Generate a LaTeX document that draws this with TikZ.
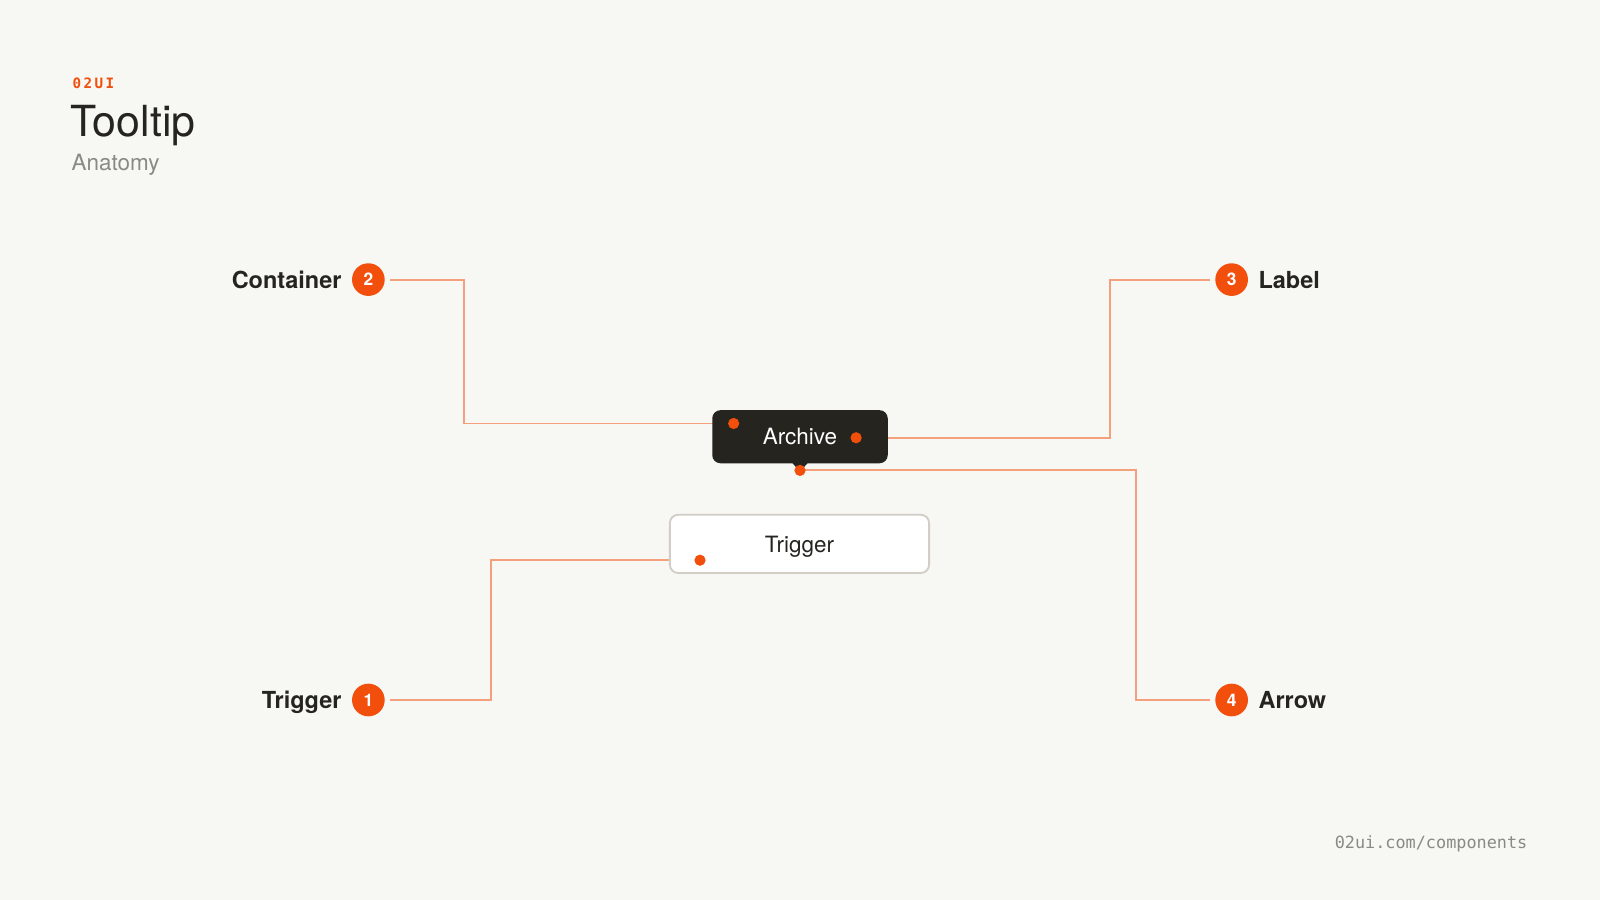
\documentclass[tikz,border=0pt]{standalone}
\usepackage{fontspec}
\setmainfont{TeX Gyre Heros}
\setmonofont{DejaVu Sans Mono}
\usetikzlibrary{positioning}
\definecolor{paper}{HTML}{F7F7F3}
\definecolor{ink}{HTML}{25241F}
\definecolor{accent}{HTML}{F24E0C}
\definecolor{leaderc}{HTML}{F5A07C}
\definecolor{muted}{HTML}{8A8A85}
\definecolor{edge}{HTML}{D2CEC6}
\begin{document}
\begin{tikzpicture}[x=1pt,y=-1pt]
\tikzset{badge/.style={ %
		circle,
		fill=accent,
		text=white,
		minimum size=32pt,
		inner sep=0pt,
		font=\fontsize{17}{17}\selectfont\bfseries %
	},
	part/.style={inner sep=0pt, text=ink, text height=16.5pt, text depth=0pt,
		font=\fontsize{23}{23}\selectfont\bfseries},
	dot/.style={circle, fill=accent, inner sep=0pt, minimum size=11pt},
	leader/.style={draw=leaderc, line width=1.9pt, shorten >=5pt}
}
\fill[paper] (0,0) rectangle (1568,882);
\useasboundingbox (0,0) rectangle (1568,882);

% heading
\node[anchor=base west, inner sep=0pt, text=accent, font=\fontsize{14}{14}\selectfont\ttfamily\bfseries] (kicker) at (71,87) {0\,2\,U\,I};
\node[anchor=base west, inner sep=0pt, text=ink, font=\fontsize{42}{42}\selectfont] (title) at (69,134) {Tooltip};
\node[anchor=base west, inner sep=0pt, text=muted, font=\fontsize{22}{22}\selectfont] (subtitle) at (70,167) {Anatomy};

% badges and names
\node[badge] (b2) at (361,274) {2};
\node[part, left=10pt of b2] (n2) {Container};
\node[badge] (b3) at (1207,274) {3};
\node[part, right=10pt of b3] (n3) {Label};
\node[badge] (b1) at (361,686) {1};
\node[part, left=10pt of b1] (n1) {Trigger};
\node[badge] (b4) at (1207,686) {4};
\node[part, right=10pt of b4] (n4) {Arrow};

% marker points and bends
\coordinate (d2) at (719,415);
\coordinate (d3) at (839,429);
\coordinate (d4) at (784,461);
\coordinate (d1) at (686,549);
\coordinate (k2) at (455,274);
\coordinate (k3) at (1088,274);
\coordinate (k4) at (1113,686);
\coordinate (k1) at (481,686);

\draw[leader] (d2) -| (k2) -- (b2.east);
\draw[leader] (d3) -| (k3) -- (b3.west);
\draw[leader] (d4) -| (k4) -- (b4.west);
\draw[leader] (d1) -| (k1) -- (b1.east);

% tooltip and trigger
\node[fill=ink, rounded corners=8pt, minimum width=172pt, minimum height=52pt, text=white,
	text height=16pt, text depth=0pt, font=\fontsize{22}{22}\selectfont] (tip) at (784,428) {Archive};
\fill[ink] (tip.south) ++(-8,-1) -- ++(16,0) -- ++(-8,9) -- cycle;
\node[draw=edge, line width=1.8pt, fill=white, rounded corners=8pt, minimum width=254pt,
	minimum height=57pt, text=ink, text height=16pt, text depth=0pt,
	font=\fontsize{22}{22}\selectfont] (trig) at (783.5,533) {Trigger};

\foreach \p in {d1,d2,d3,d4}
	\node[dot] at (\p) {};

\node[anchor=base east, inner sep=0pt, text=muted, font=\fontsize{16.5}{16.5}\selectfont\ttfamily] (footer) at (1497,832) {02ui.com/components};
\end{tikzpicture}
\end{document}
